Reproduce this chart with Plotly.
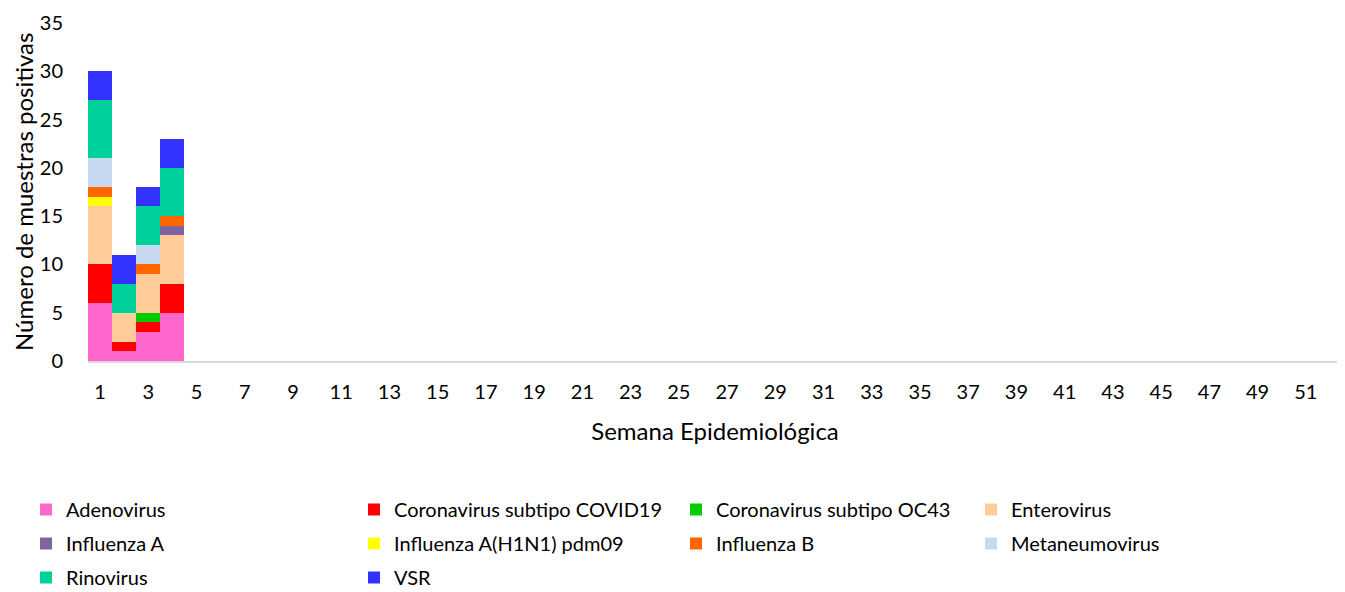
import plotly.graph_objects as go

weeks = list(range(1, 53))
series_names = ["Adenovirus", "Coronavirus subtipo COVID19", "Coronavirus subtipo OC43", "Enterovirus",
                "Influenza A", "Influenza A(H1N1) pdm09", "Influenza B", "Metaneumovirus",
                "Rinovirus", "VSR"]
colors = ["#FF66CC", "#FF0000", "#00CC00", "#FFCC99", "#8064A2", "#FFFF00", "#FF6600", "#C6D9F0",
          "#00D09A", "#3333FF"]

adenovirus = [6, 1, 3, 5]
covid19 = [4, 1, 1, 3]
oc43 = [0, 0, 1, 0]
enterovirus = [6, 3, 4, 5]
influenza_a = [0, 0, 0, 1]
h1n1 = [1, 0, 0, 0]
influenza_b = [1, 0, 1, 1]
metaneumovirus = [3, 0, 2, 0]
rinovirus = [6, 3, 4, 5]
vsr = [3, 3, 2, 3]

data = [adenovirus, covid19, oc43, enterovirus, influenza_a, h1n1, influenza_b, metaneumovirus, rinovirus, vsr]

font = "Lato, 'Open Sans', sans-serif"
W, H = 1345, 592
legend_ids = ["legend", "legend2", "legend3", "legend4"]
col_symbol_x = [39, 367, 689, 984]
row1_center = 509

fig = go.Figure()
for i, (name, vals, c) in enumerate(zip(series_names, data, colors)):
    y = vals + [0] * (len(weeks) - len(vals))
    fig.add_trace(go.Bar(x=weeks, y=y, name=name, marker=dict(color=c, line=dict(width=0)),
                         legend=legend_ids[i % 4], legendgroup=name))

legend_common = dict(orientation="v", xref="container", yref="container", xanchor="left", yanchor="top",
                     traceorder="grouped", font=dict(size=20), tracegroupgap=5, bgcolor="rgba(0,0,0,0)")
layout_legends = {}
for k, lid in enumerate(legend_ids):
    layout_legends[lid] = dict(legend_common, x=(col_symbol_x[k] - 21) / W, y=1 - (row1_center - 27) / H)

fig.update_layout(
    barmode="stack", bargap=0,
    width=W, height=H,
    plot_bgcolor="white", paper_bgcolor="white",
    margin=dict(l=80, r=11, t=15, b=239, autoexpand=False),
    font=dict(family=font, size=20, color="#000000"),
    xaxis=dict(range=[0.5, 52.5], tickmode="linear", tick0=1, dtick=2, showgrid=False,
               showline=True, linecolor="#d9d9d9", linewidth=2, ticks="", zeroline=False,
               ticklabelstandoff=12, automargin=False, ticklabeloverflow="allow",
               title=dict(text="Semana Epidemiológica", standoff=21), tickfont=dict(size=20)),
    yaxis=dict(range=[0, 35], tickmode="linear", dtick=5, showgrid=False, zeroline=False,
               showline=False, ticks="", automargin=False, ticklabelstandoff=24,
               ticklabeloverflow="allow"),
    annotations=[dict(text="Número de muestras positivas", textangle=-90, showarrow=False,
                      xref="paper", yref="paper", x=0, y=0.5, xanchor="center", yanchor="middle",
                      xshift=-65, font=dict(size=24, family=font))],
    **layout_legends,
)
fig.write_html("out.html")
